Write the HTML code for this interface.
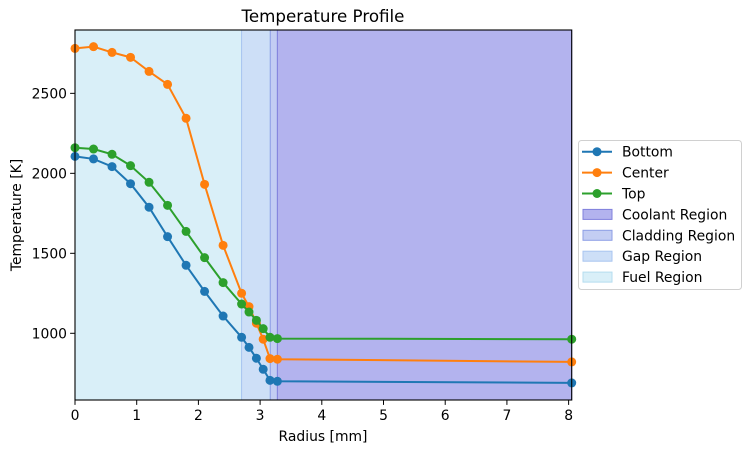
<!DOCTYPE html>
<html><head><meta charset="utf-8"><style>
body{margin:0;background:#fff;}
svg{display:block;font-family:"DejaVu Sans","Liberation Sans",sans-serif;}
</style></head><body>
<svg id="chart" width="751" height="453" viewBox="0 0 751 453">
<g id="regions"></g>
<g id="series"></g>
<g id="axes"></g>
<text x="323" y="22" text-anchor="middle" font-size="16.7" fill="#000">Temperature Profile</text>
<text x="323" y="441" text-anchor="middle" font-size="13.9" fill="#000">Radius [mm]</text>
<text transform="translate(21,215) rotate(-90)" text-anchor="middle" font-size="13.9" fill="#000">Temperature [K]</text>
<g id="legend"></g>
</svg>
<script>
const radius = [0,0.3,0.6,0.9,1.2,1.5,1.8,2.1,2.4,2.7,2.82,2.94,3.05,3.16,3.28,8.05];
const bottomT = [2106,2090,2042,1935,1788,1604,1425,1262,1108,975,912,844,775,706,700,690];
const centerT = [2781,2792,2756,2725,2637,2556,2344,1931,1550,1250,1167,1063,963,842,838,821];
const topT = [2160,2152,2119,2048,1944,1800,1637,1473,1317,1183,1133,1081,1029,975,967,963];
const regionNames = ["Fuel Region","Gap Region","Cladding Region","Coolant Region"];
const regionStart = [0,2.7,3.165,3.28];
const regionEnd = [2.7,3.165,3.28,8.05];
const xTicks = [0,1,2,3,4,5,6,7,8];
const yTicks = [1000,1500,2000,2500];

const NS="http://www.w3.org/2000/svg";
const L=75,R=571.7,T=30,B=400,XMAX=8.05,YMIN=583,YMAX=2896;
const xs=v=>L+(v/XMAX)*(R-L);
const ys=v=>B-(v-YMIN)/(YMAX-YMIN)*(B-T);
function mk(tag,attrs,parent){const e=document.createElementNS(NS,tag);for(const k in attrs)e.setAttribute(k,attrs[k]);parent.appendChild(e);return e;}

const regFill={"Fuel Region":"#d9eff8","Gap Region":"#cddff7","Cladding Region":"#c3cdf3","Coolant Region":"#b3b3ee"};
const regEdge={"Fuel Region":"#b5dcef","Gap Region":"#a9c5f0","Cladding Region":"#8e9ee6","Coolant Region":"#8080dc"};
const rg=document.getElementById('regions');
regionNames.forEach((n,i)=>{
  const r=mk('rect',{x:xs(regionStart[i]),y:T,width:xs(regionEnd[i])-xs(regionStart[i]),height:B-T,fill:regFill[n],stroke:regEdge[n],'stroke-width':1},rg);
  
  
});

const sg=document.getElementById('series');
const seriesList=[["bottom",bottomT,"#1f77b4"],["center",centerT,"#ff7f0e"],["top",topT,"#2ca02c"]];
seriesList.forEach(([nm,vals,c])=>{
  const g=mk('g',{},sg);
  
  
  const pl=mk('polyline',{points:radius.map((r,i)=>xs(r)+','+ys(vals[i])).join(' '),fill:'none',stroke:c,'stroke-width':2},g);
  
  
  radius.forEach((r,i)=>{
    const p=mk('circle',{cx:xs(r),cy:ys(vals[i]),r:4.5,fill:c},g);
    
    
  });
});

const ax=document.getElementById('axes');
const fr=mk('rect',{x:L,y:T,width:R-L,height:B-T,fill:'none',stroke:'#000','stroke-width':1.1},ax);


xTicks.forEach(t=>{
  mk('line',{x1:xs(t),x2:xs(t),y1:B,y2:B+4.9,stroke:'#000'},ax);
  const tx=mk('text',{x:xs(t),y:B+20,'text-anchor':'middle','font-size':13.9},ax);
  tx.textContent=t;
  
  
});
yTicks.forEach(t=>{
  mk('line',{x1:L-4.9,x2:L,y1:ys(t),y2:ys(t),stroke:'#000'},ax);
  const tx=mk('text',{x:L-8,y:ys(t)+5,'text-anchor':'end','font-size':13.9},ax);
  tx.textContent=t;
  
  
});

const lg=document.getElementById('legend');
const box=mk('rect',{x:578.5,y:140.5,width:163,height:149,rx:3,fill:'#fff',stroke:'#d0d0d0'},lg);


const entries=[["Bottom","line","#1f77b4"],["Center","line","#ff7f0e"],["Top","line","#2ca02c"],
 ["Coolant Region","patch"],["Cladding Region","patch"],["Gap Region","patch"],["Fuel Region","patch"]];
entries.forEach(([n,k,c],i)=>{
  const y=151.7+i*20.9;
  const g=mk('g',{},lg);
  
  
  if(k==='line'){
    mk('line',{x1:582,x2:612,y1:y,y2:y,stroke:c,'stroke-width':2},g);
    mk('circle',{cx:597,cy:y,r:4.5,fill:c},g);
  }else{
    mk('rect',{x:583,y:y-5,width:29,height:10,fill:regFill[n],stroke:regEdge[n]},g);
  }
  const t=mk('text',{x:622,y:y+5,'font-size':13.9},g);
  t.textContent=n;
});
</script>
</body></html>
